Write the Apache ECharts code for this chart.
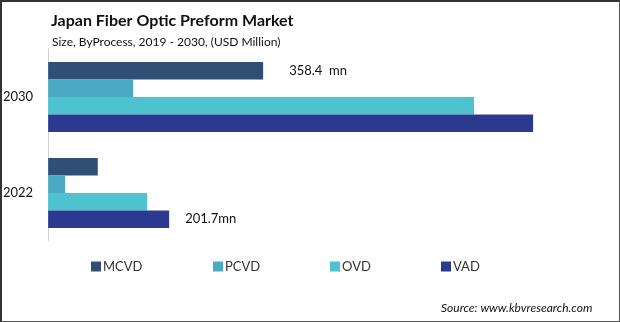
<!DOCTYPE html>
<html><head><meta charset="utf-8">
<script src="https://cdn.jsdelivr.net/npm/echarts@6/dist/echarts.min.js"></script>
<style>html,body{margin:0;padding:0;background:#fff}
#wrap{position:absolute;left:0;top:0;width:617px;height:319px;border-left:2px solid #333;border-top:2px solid #333;border-right:1px solid #555;border-bottom:1px solid #555;}
#c{width:620px;height:322px;position:absolute;left:0;top:0}</style>
</head><body><div id="wrap"></div><div id="c"></div>
<script>
const categories = ['2030', '2022'];
const seriesNames = ['MCVD', 'PCVD', 'OVD', 'VAD'];
const mcvd = [358.4, 82.7];
const pcvd = [141.7, 28.3];
const ovd = [710.0, 165.0];
const vad = [808.5, 201.7];
const colors = ['#2f4f75', '#4baac4', '#4ec3d0', '#2b3a8f'];
const labels = {MCVD: {0: '358.4  mn'}, VAD: {1: '201.7mn'}};
const values = [mcvd, pcvd, ovd, vad];
const font = 'Lato, "Open Sans", sans-serif';
const chart = echarts.init(document.getElementById('c'));
const series = seriesNames.map((n, si) => ({
  name: n, type: 'bar', barGap: '0%', barCategoryGap: '27%',
  itemStyle: {color: colors[si]},
  data: values[si].map((v, i) => {
    const lt = labels[n] && labels[n][i];
    const d = {value: v};
    if (lt) d.label = {show: true, position: 'right', distance: n === 'MCVD' ? 26 : 16,
      formatter: lt, color: '#111', fontSize: 13, fontFamily: font};
    return d;
  })
}));
const legendX = [86, 208, 325, 436];
chart.setOption({
  animation: false,
  title: [
    {text: 'Japan Fiber Optic Preform Market', left: 46, top: 8,
     textStyle: {fontFamily: font, fontWeight: 'bold', fontSize: 16, color: '#111'}},
    {text: 'Size, ByProcess, 2019 - 2030, (USD Million)', left: 47, top: 31,
     textStyle: {fontFamily: font, fontWeight: 'normal', fontSize: 12, color: '#111'}},
    {text: 'Source: www.kbvresearch.com', left: 436, top: 297,
     textStyle: {fontFamily: font, fontWeight: 'normal', fontStyle: 'italic', fontSize: 12, color: '#111'}}
  ],
  legend: seriesNames.map((n, i) => ({
    data: [n], left: legendX[i], top: 255, itemWidth: 10, itemHeight: 10, itemGap: 0,
    icon: 'rect', textStyle: {fontFamily: font, fontSize: 13, color: '#333', padding: [0, 0, 0, -3]}
  })),
  grid: {left: 48, top: 49, bottom: 81, right: 32},
  xAxis: {type: 'value', min: 0, max: 900, show: false},
  yAxis: {type: 'category', data: categories, inverse: true,
    axisLine: {show: true, lineStyle: {color: '#d0d0d0'}}, axisTick: {show: false},
    axisLabel: {margin: 15, fontFamily: font, fontSize: 13, color: '#111'}},
  series: series
});
</script></body></html>
